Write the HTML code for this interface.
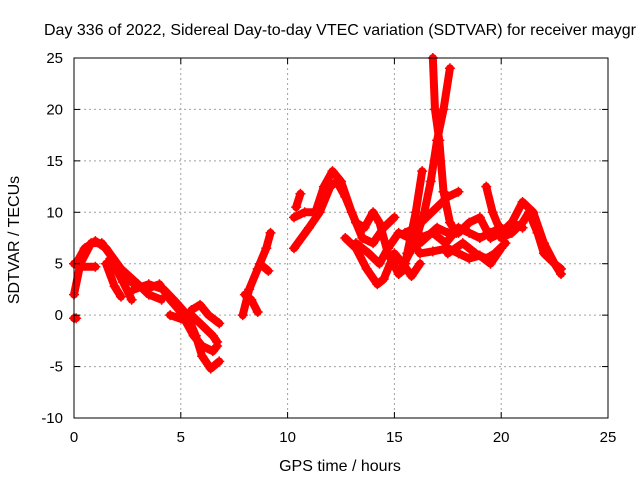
<!DOCTYPE html>
<html><head><meta charset="utf-8"><style>
body{margin:0;background:#fff}
svg{display:block;font-family:"Liberation Sans",sans-serif}
</style></head><body>
<svg id="chart" width="640" height="480">
<text x="44" y="35" font-size="16">Day 336 of 2022, Sidereal Day-to-day VTEC variation (SDTVAR) for receiver maygr</text>
<g id="grid"></g>
<g id="marks"></g>
<rect x="74" y="58" width="534" height="360" fill="none" stroke="#000" stroke-width="1"/>
<g id="ticks"></g>
<text x="340" y="471" font-size="16" text-anchor="middle">GPS time / hours</text>
<text transform="translate(19,240) rotate(-90)" font-size="16" text-anchor="middle">SDTVAR / TECUs</text>
</svg>
<script>
const xTicks=[0,5,10,15,20,25];
const yTicks=[-10,-5,0,5,10,15,20,25];
const tracks=[
[[0,2],[0.3,5],[0.8,7],[1.3,7],[2,5],[2.7,3.2],[3.3,2.5],[4,3],[4.5,1.5],[5,0.3],[5.5,0],[6,-1],[6.5,-2],[6.7,-2.6]],
[[0.1,5],[0.5,6.5],[1,7.2],[1.5,6.5],[2.2,4.5],[3,3],[3.5,2],[4.1,1.5]],
[[1.7,5.5],[2.3,3.2],[2.7,1.5]],
[[1.5,5],[1.9,2.8],[2.2,1.8]],
[[2.8,2.5],[3.5,3],[4.2,2.5],[4.8,1.2],[5.3,0],[5.7,-2],[6,-4],[6.4,-5.2],[6.8,-4.5]],
[[4.5,0],[5.2,-0.5],[5.6,-2],[6,-3],[6.5,-3.5],[6.7,-3]],
[[5.5,0.5],[5.9,1],[6.3,0],[6.8,-0.8]],
[[0,5],[0.3,4.7],[1,4.7]],
[[0,-0.3],[0.1,-0.3]],
[[7.9,0],[8.2,2.5],[8.6,4.5],[9,6.5],[9.2,8]],
[[8,2],[8.3,1.5],[8.6,0.3]],
[[8.7,5],[9.1,4.3]],
[[10.3,9.5],[10.8,10],[11.3,10],[11.7,12.5],[12.1,14],[12.5,13],[13,10],[13.5,7.5],[14,7],[14.5,8.5],[15,9.5]],
[[10.3,6.5],[11,8.5],[11.5,10],[12,12.5],[12.3,13],[12.7,11.5],[13.2,9],[13.6,8.5],[14,10],[14.3,9],[14.7,6],[15.2,4],[15.5,4.5]],
[[10.4,10.5],[10.6,11.8]],
[[12.7,7.5],[13.2,6.5],[13.7,4.5],[14.2,3],[14.5,3.5],[15,6],[15.4,5],[15.8,3.8],[16.2,5]],
[[13.2,7],[13.8,6],[14.3,5],[14.7,6.5],[15.2,8],[15.7,7.5],[16.2,6],[16.8,6.2],[17.5,6.5],[18,6],[18.5,5.5],[19,5.8],[19.5,5],[20,6.5]],
[[15.2,4],[15.7,6],[16.1,8],[16.4,10],[16.7,13],[17,17],[17.3,20],[17.6,24]],
[[16.8,25],[16.9,20],[17.1,17],[17.3,12],[17.6,9],[17.9,8]],
[[15.5,5],[16,10],[16.3,14]],
[[15.5,8],[16,8.5],[16.5,9.5],[17,10.5],[17.5,11.5],[18,12]],
[[15.6,6],[16.2,7.5],[16.8,8],[17.4,7],[18,8.5],[18.5,8],[19,7.5],[19.5,8],[20,8.5]],
[[16.2,7],[17,8.5],[17.5,8],[18,8],[18.5,9],[19,9.5],[19.5,7.5],[20,8],[20.5,9],[21,8.5]],
[[19.3,12.5],[19.6,10],[20,8],[20.5,9],[21,11],[21.5,10],[22,7],[22.5,5],[22.8,4.5]],
[[20,7.5],[20.5,8],[21,9],[21.3,10],[21.7,8],[22,6],[22.5,5],[22.8,4]],
[[17.5,6],[18.2,7],[18.8,6],[19.3,5.5],[19.7,6],[20.2,7]]
];
const NS="http://www.w3.org/2000/svg";
const X=t=>74+t*534/25, Y=v=>58+(25-v)*360/35;
const grid=document.getElementById('grid'),ticks=document.getElementById('ticks'),marks=document.getElementById('marks');
function mk(tag,attrs,parent){const e=document.createElementNS(NS,tag);for(const k in attrs)e.setAttribute(k,attrs[k]);parent.appendChild(e);return e;}
xTicks.forEach(t=>{
 const x=X(t);
 if(t>0&&t<25){const g=mk('line',{x1:x,x2:x,y1:58,y2:418,stroke:'#a0a0a0','stroke-dasharray':'2,3'},grid);
 
 }
 mk('line',{x1:x,x2:x,y1:418,y2:412,stroke:'#000'},ticks);
 mk('line',{x1:x,x2:x,y1:58,y2:64,stroke:'#000'},ticks);
 const l=mk('text',{x:x,y:442,'font-size':15,'text-anchor':'middle'},ticks);l.textContent=t;
 
 
});
yTicks.forEach(v=>{
 const y=Y(v);
 if(v>-10&&v<25){const g=mk('line',{x1:74,x2:608,y1:y,y2:y,stroke:'#a0a0a0','stroke-dasharray':'2,3'},grid);
 
 }
 mk('line',{x1:74,x2:80,y1:y,y2:y,stroke:'#000'},ticks);
 mk('line',{x1:608,x2:602,y1:y,y2:y,stroke:'#000'},ticks);
 const l=mk('text',{x:63,y:y+5,'font-size':15,'text-anchor':'end'},ticks);l.textContent=v;
 
 
});
tracks.forEach((tr,i)=>{
 const p=mk('polyline',{points:tr.map(d=>X(d[0])+','+Y(d[1])).join(' '),fill:'none',stroke:'#ff0000','stroke-width':8,'stroke-linejoin':'round','stroke-linecap':'round'},marks);
 
 
 tr.forEach(d=>{
  const x=X(d[0]),y=Y(d[1]);
  const m=mk('path',{d:`M${x-5},${y}H${x+5}M${x},${y-5}V${y+5}`,stroke:'#ff0000','stroke-width':1.5},marks);
  
  
 });
});
</script>
</body></html>
